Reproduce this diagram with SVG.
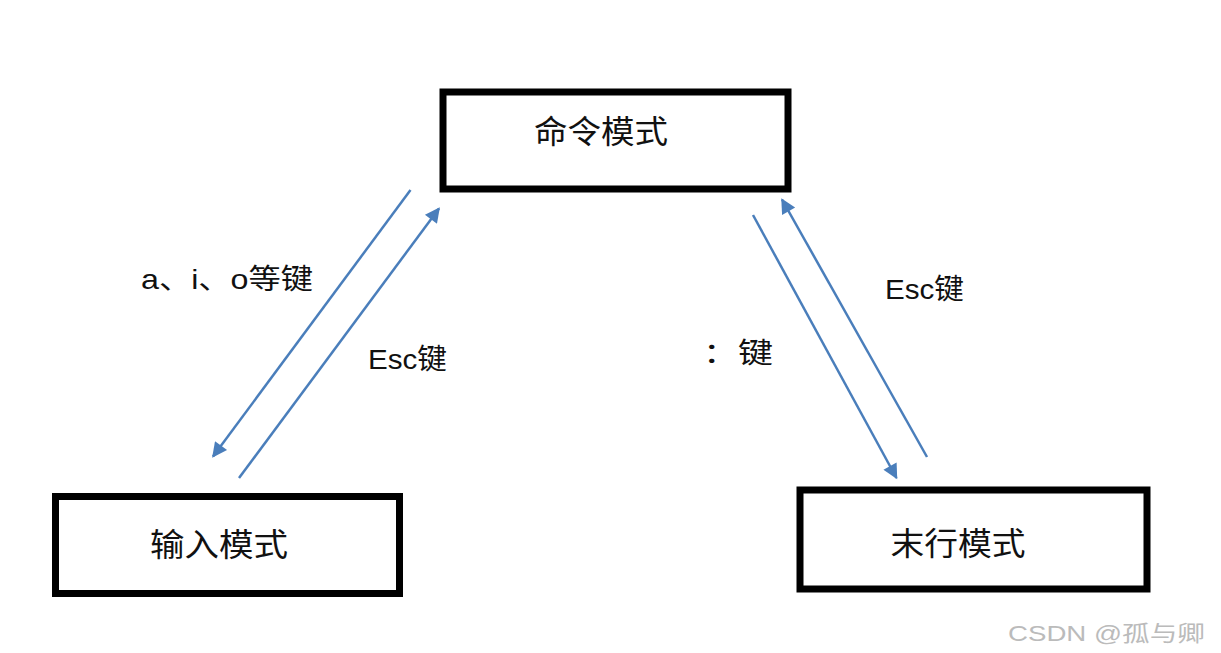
<svg xmlns="http://www.w3.org/2000/svg" width="1221" height="653" viewBox="0 0 1221 653">
<style>
.box{fill:#fff;stroke:#000;stroke-width:7}
.nt{font-family:"Liberation Sans","Noto Sans CJK SC",sans-serif;font-size:32px;fill:#111;text-anchor:middle}
.lb{font-family:"Liberation Sans","Noto Sans CJK SC",sans-serif;font-size:28px;fill:#111}
.ed{stroke:#4a7ebb;stroke-width:2.5;fill:none;marker-end:url(#ah)}
.wm{font-family:"Liberation Sans","Noto Sans CJK SC",sans-serif;font-size:22px;fill:#bbb}
</style>
<defs>
<marker id="ah" viewBox="0 0 10 10" refX="9" refY="5" markerWidth="7" markerHeight="6" markerUnits="strokeWidth" orient="auto">
<path d="M0,0 L10,5 L0,10 Z" fill="#4a7ebb"/>
</marker>
</defs>
<rect width="1221" height="653" fill="#fff"/>
<g id="cmd">
<rect class="box" x="443" y="92" width="345" height="97"/>
<text class="nt" x="601" y="143" textLength="134" lengthAdjust="spacingAndGlyphs">命令模式</text>
</g>
<g id="input">
<rect class="box" x="55.5" y="496.5" width="344" height="97"/>
<text class="nt" x="219" y="556" textLength="138" lengthAdjust="spacingAndGlyphs">输入模式</text>
</g>
<g id="last">
<rect class="box" x="800" y="490" width="347" height="99"/>
<text class="nt" x="958" y="555" textLength="135" lengthAdjust="spacingAndGlyphs">末行模式</text>
</g>
<g id="connectors">
<line class="ed" x1="410.5" y1="190" x2="213" y2="456.5"/>
<line class="ed" x1="239" y1="478" x2="439" y2="208.5"/>
<line class="ed" x1="753" y1="215" x2="896.5" y2="478"/>
<line class="ed" x1="927" y1="457" x2="782" y2="199.5"/>
</g>
<g id="labels">
<text class="lb" x="141" y="289" textLength="172" lengthAdjust="spacingAndGlyphs">a、i、o等键</text>
<text class="lb" x="368" y="369" textLength="79" lengthAdjust="spacingAndGlyphs">Esc键</text>
<text class="lb" x="885" y="299" textLength="79" lengthAdjust="spacingAndGlyphs">Esc键</text>
<text class="lb" x="703" y="363" textLength="70" lengthAdjust="spacingAndGlyphs">：键</text>
</g>
<text class="wm" x="1008" y="641" textLength="197" lengthAdjust="spacingAndGlyphs">CSDN @孤与卿</text>
</svg>
